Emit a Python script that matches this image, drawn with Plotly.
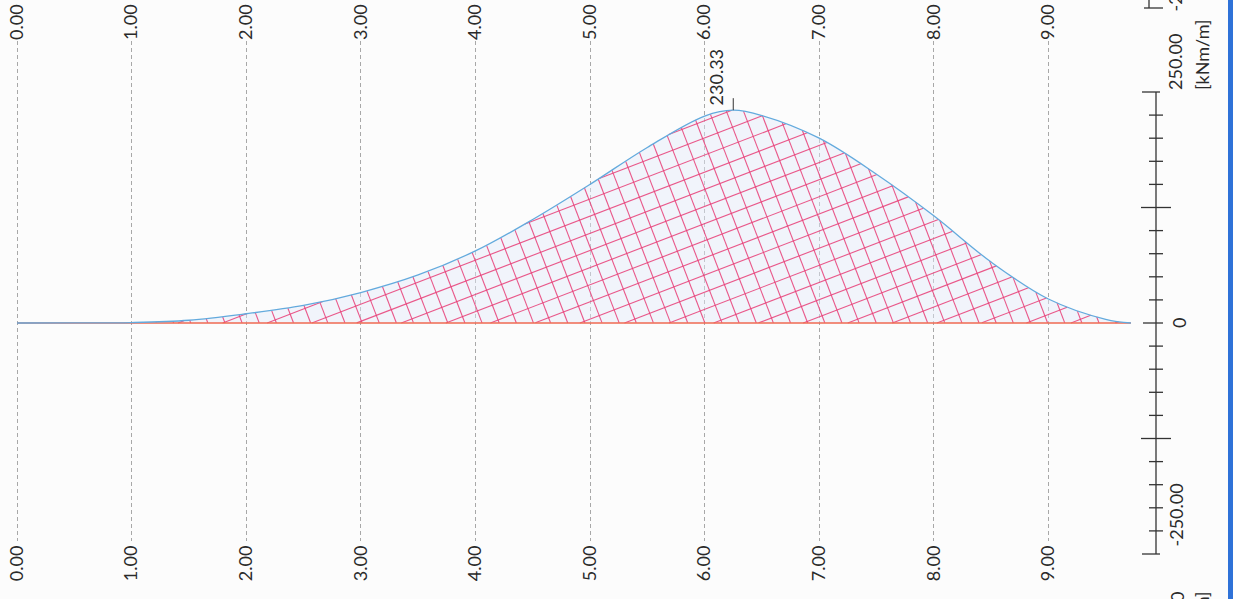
import numpy as np
import plotly.graph_objects as go

# ---------------- data ----------------
x_pos = [0.0, 0.5, 1.0, 1.5, 2.0, 2.5, 3.0, 3.5, 4.0, 4.5, 5.0, 5.5, 6.0, 6.25,
         6.5, 7.0, 7.5, 8.0, 8.5, 9.0, 9.5, 9.72]
moment = [0.0, 0.1, 0.5, 3.0, 10.0, 19.0, 33.0, 52.0, 78.0, 112.0, 150.0, 190.0,
          224.0, 230.33, 224.5, 200.0, 161.0, 116.0, 66.0, 26.0, 4.0, 0.0]
x_tick_vals = [0, 1, 2, 3, 4, 5, 6, 7, 8, 9]
x_tick_text = ["0.00", "1.00", "2.00", "3.00", "4.00", "5.00", "6.00", "7.00", "8.00", "9.00"]
scale_major = [-250, -125, 0, 125, 250]
scale_minor = list(range(-250, 251, 25))
scale_label_vals = [250, 0, -250]
scale_label_text = ["250.00", "0", "-250.00"]
peak_x = 6.25
peak_value = 230.33
peak_text = "230.33"
unit_text = "[kNm/m]"

# ---------------- layout geometry ----------------
W, HGT = 1233, 599
M_T, M_B = 41, 58
PLOT_H = HGT - M_T - M_B
PX_PER_X = 114.6
X0_PX = 17
PX_PER_Y = 0.924
ZERO_PX = 323
X_RANGE = [-X0_PX / PX_PER_X, (W - X0_PX) / PX_PER_X]
Y_RANGE = [-(HGT - M_B - ZERO_PX) / PX_PER_Y, (ZERO_PX - M_T) / PX_PER_Y]
SX = W / (X_RANGE[1] - X_RANGE[0])
SY = PLOT_H / (Y_RANGE[1] - Y_RANGE[0])

FONT = "Lato"
FSIZE = 18
HATCH_COLOR = "rgba(232,60,118,0.85)"
CURVE_COLOR = "#63aadd"
BASE_COLOR = "#ef6a52"


def yp(v):
    return (v - Y_RANGE[0]) / (Y_RANGE[1] - Y_RANGE[0])


def py_to_paper(py):
    return (HGT - M_B - py) / PLOT_H


def px_to_paper(px):
    return px / W


def to_px(x, y):
    return (np.asarray(x) - X_RANGE[0]) * SX, (Y_RANGE[1] - np.asarray(y)) * SY


def to_data(px, py):
    return px / SX + X_RANGE[0], Y_RANGE[1] - py / SY


def plotly_spline(px, py, smoothing=1.0):
    """Replicates plotly.js open spline path in pixel space (for hatch clipping)."""
    pts = np.column_stack([px, py]).astype(float)
    n = len(pts)
    tang = []
    for i in range(1, n - 1):
        p0, p1, p2 = pts[i - 1], pts[i], pts[i + 1]
        d1 = p0 - p1
        d2 = p2 - p1
        d1a = (d1 @ d1) ** 0.25
        d2a = (d2 @ d2) ** 0.25
        num = (d2a * d2a * d1 - d1a * d1a * d2) * smoothing
        den1 = 3 * d2a * (d1a + d2a)
        den2 = 3 * d1a * (d1a + d2a)
        a = p1 + (num / den1 if den1 else 0)
        b = p1 - (num / den2 if den2 else 0)
        tang.append((a, b))
    t = np.linspace(0, 1, 60)[:, None]

    def quad(a, c, b):
        return (1 - t) ** 2 * a + 2 * (1 - t) * t * c + t ** 2 * b

    def cub(a, c1, c2, b):
        return (1 - t) ** 3 * a + 3 * (1 - t) ** 2 * t * c1 + 3 * (1 - t) * t ** 2 * c2 + t ** 3 * b

    segs = [quad(pts[0], tang[0][0], pts[1])]
    for i in range(2, n - 1):
        segs.append(cub(pts[i - 1], tang[i - 2][1], tang[i - 1][0], pts[i]))
    segs.append(quad(pts[n - 2], tang[n - 3][1], pts[n - 1]))
    return np.vstack(segs)


PX, PY = to_px(x_pos, moment)
curve = plotly_spline(PX, PY)
order = np.argsort(curve[:, 0])
cx, cy = curve[order, 0], curve[order, 1]
_, BASE_PY = to_px(0, 0)
XS_PX, XE_PX = PX[0], PX[-1]


def hatch(angle_deg, spacing=15.0, phase=0.0):
    th = np.radians(angle_deg)
    d = np.array([np.cos(th), np.sin(th)])
    nrm = np.array([-d[1], d[0]])
    corners = np.array([[XS_PX, cy.min()], [XE_PX, cy.min()], [XS_PX, BASE_PY], [XE_PX, BASE_PY]])
    cp = corners @ nrm
    tp = corners @ d
    xs_out, ys_out = [], []
    cstart = np.floor(cp.min() / spacing) * spacing + phase
    for c in np.arange(cstart, cp.max() + spacing, spacing):
        ts = np.arange(tp.min() - 2, tp.max() + 2, 0.4)
        P = c * nrm + ts[:, None] * d
        X, Y = P[:, 0], P[:, 1]
        inside = (X >= XS_PX) & (X <= XE_PX) & (Y <= BASE_PY) & (Y >= np.interp(X, cx, cy))
        if not inside.any():
            continue
        idx = np.flatnonzero(inside)
        breaks = np.flatnonzero(np.diff(idx) > 1)
        starts = np.concatenate([[idx[0]], idx[breaks + 1]])
        ends = np.concatenate([idx[breaks], [idx[-1]]])
        for s, e in zip(starts, ends):
            if e - s < 2:
                continue
            x0, y0 = to_data(X[s], Y[s])
            x1, y1 = to_data(X[e], Y[e])
            xs_out += [x0, x1, None]
            ys_out += [y0, y1, None]
    return xs_out, ys_out


hax, hay = hatch(69, 16.0, 3.0)
hbx, hby = hatch(-21, 16.0, 7.0)

fig = go.Figure()
fig.add_trace(go.Scatter(x=x_pos, y=moment, mode="lines", fill="tozeroy",
                         fillcolor="rgba(228,234,250,0.45)",
                         line=dict(width=0, shape="spline", simplify=False),
                         hoverinfo="skip", showlegend=False))
fig.add_trace(go.Scatter(x=hax, y=hay, mode="lines", line=dict(color=HATCH_COLOR, width=1.1),
                         hoverinfo="skip", showlegend=False))
fig.add_trace(go.Scatter(x=hbx, y=hby, mode="lines", line=dict(color=HATCH_COLOR, width=1.1),
                         hoverinfo="skip", showlegend=False))
fig.add_trace(go.Scatter(x=[x_pos[0], x_pos[-1]], y=[0, 0], mode="lines",
                         line=dict(color=BASE_COLOR, width=1.3), showlegend=False))
fig.add_trace(go.Scatter(x=x_pos, y=moment, mode="lines",
                         line=dict(color=CURVE_COLOR, width=1.3, shape="spline", simplify=False),
                         showlegend=False))
# dummy trace to activate the top axis
fig.add_trace(go.Scatter(x=[x_pos[0]], y=[moment[0]], xaxis="x2", mode="markers",
                         marker=dict(opacity=0), hoverinfo="skip", showlegend=False))

tickfont = dict(family=FONT, size=FSIZE, color="#2a2a2a")
fig.update_layout(
    width=W, height=HGT,
    margin=dict(l=0, r=0, t=M_T, b=M_B, pad=0),
    paper_bgcolor="#fcfcfc", plot_bgcolor="rgba(0,0,0,0)",
    showlegend=False,
    xaxis=dict(range=X_RANGE, tickvals=x_tick_vals, ticktext=x_tick_text, tickangle=-90,
               showgrid=True, gridcolor="#a8a8a8", gridwidth=1, griddash="4px,3px",
               zeroline=False, showline=False, ticks="", tickfont=tickfont,
               layer="above traces", automargin=False),
    xaxis2=dict(range=X_RANGE, matches="x", overlaying="x", side="top", anchor="y",
                tickvals=x_tick_vals, ticktext=x_tick_text, tickangle=-90,
                showgrid=False, zeroline=False, showline=False, ticks="",
                tickfont=tickfont, automargin=False),
    yaxis=dict(range=Y_RANGE, visible=False, showgrid=False, zeroline=False, automargin=False),
)

shapes = []
SCALE_X = px_to_paper(1156)
line_style = dict(color="#333333", width=1.3)
shapes.append(dict(type="line", xref="paper", yref="paper", x0=SCALE_X, x1=SCALE_X,
                   y0=yp(scale_major[0]), y1=yp(scale_major[-1]), line=line_style))
for v in scale_minor:
    if v in scale_major:
        continue
    shapes.append(dict(type="line", xref="paper", yref="paper", xsizemode="pixel", xanchor=SCALE_X,
                       x0=-7, x1=7, y0=yp(v), y1=yp(v), line=line_style))
for v in scale_major:
    if v in (scale_major[0], scale_major[-1]):
        a, b = -14, 4
    elif v == 0:
        a, b = -13, 7
    else:
        a, b = -15, 15
    shapes.append(dict(type="line", xref="paper", yref="paper", xsizemode="pixel", xanchor=SCALE_X,
                       x0=a, x1=b, y0=yp(v), y1=yp(v), line=line_style))
# peak marker
shapes.append(dict(type="line", xref="x", yref="y", ysizemode="pixel", yanchor=peak_value,
                   x0=peak_x, x1=peak_x, y0=0, y1=12, line=dict(color="#333", width=1)))
# clipped neighbouring scale at top edge
shapes.append(dict(type="line", xref="paper", yref="paper", x0=px_to_paper(1149), x1=px_to_paper(1149),
                   y0=py_to_paper(-5), y1=py_to_paper(8), line=line_style))
shapes.append(dict(type="line", xref="paper", yref="paper", x0=px_to_paper(1144), x1=px_to_paper(1163),
                   y0=py_to_paper(8), y1=py_to_paper(8), line=line_style))
# blue window border at right
shapes.append(dict(type="rect", xref="paper", yref="paper", x0=px_to_paper(1228), x1=px_to_paper(1240),
                   y0=py_to_paper(HGT + 5), y1=py_to_paper(-5), line=dict(width=0),
                   fillcolor="#2f72d8"))

ann = []
afont = dict(family=FONT, size=FSIZE, color="#2a2a2a")
for v, txt in zip(scale_label_vals, scale_label_text):
    if v == 0:
        ann.append(dict(x=SCALE_X, y=yp(v), xref="paper", yref="paper", text=txt, textangle=-90,
                        xanchor="left", yanchor="middle", xshift=10, showarrow=False, font=afont))
    elif v > 0:
        ann.append(dict(x=SCALE_X, y=yp(v), xref="paper", yref="paper", text=txt, textangle=-90,
                        xanchor="left", yanchor="bottom", xshift=6, showarrow=False, font=afont))
    else:
        ann.append(dict(x=SCALE_X, y=yp(v), xref="paper", yref="paper", text=txt, textangle=-90,
                        xanchor="left", yanchor="bottom", xshift=6, yshift=5, showarrow=False, font=afont))
ann.append(dict(x=SCALE_X, y=yp(scale_major[-1]), xref="paper", yref="paper", text=unit_text,
                textangle=-90, xanchor="left", yanchor="bottom", xshift=33, showarrow=False, font=afont))
ann.append(dict(x=peak_x, y=peak_value, xref="x", yref="y", text=peak_text, textangle=-90,
                xanchor="right", yanchor="bottom", xshift=-4, yshift=3, showarrow=False, font=afont))
# partly visible labels of neighbouring scales (cut by the page edge as in the scan)
ann.append(dict(x=px_to_paper(1162), y=py_to_paper(14), xref="paper", yref="paper", text="-250.00",
                textangle=-90, xanchor="left", yanchor="bottom", showarrow=False, font=afont))
ann.append(dict(x=SCALE_X, y=py_to_paper(590), xref="paper", yref="paper", text="250.00",
                textangle=-90, xanchor="left", yanchor="top", xshift=8, showarrow=False, font=afont))
ann.append(dict(x=SCALE_X, y=py_to_paper(590), xref="paper", yref="paper", text=unit_text,
                textangle=-90, xanchor="left", yanchor="top", xshift=33, showarrow=False, font=afont))

fig.update_layout(shapes=shapes, annotations=ann)
fig.write_html("out.html", config={"displayModeBar": False},
               post_script="document.body.style.margin='0';document.body.style.overflow='hidden';")
